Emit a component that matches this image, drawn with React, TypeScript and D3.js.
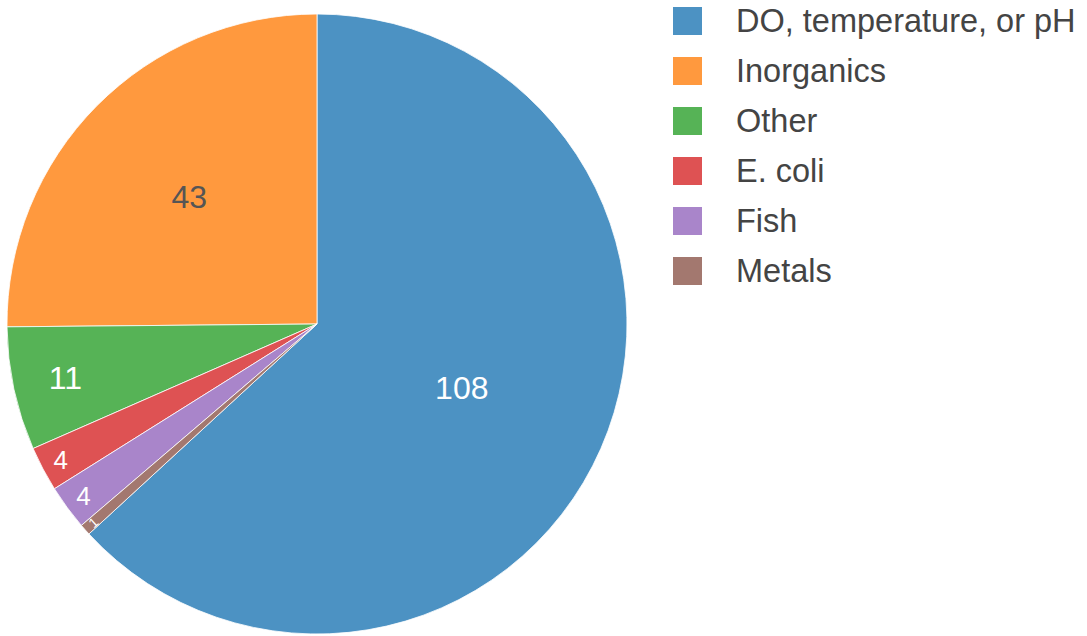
import React from "react";
import * as d3 from "d3";

const categories = ["DO, temperature, or pH", "Inorganics", "Other", "E. coli", "Fish", "Metals"];
const values = [108, 43, 11, 4, 4, 1];
const colors = ["#4c92c3", "#ff993e", "#56b356", "#de5253", "#a985ca", "#a3786f"];
const labelColors = ["#ffffff", "#555555", "#ffffff", "#ffffff", "#ffffff", "#ffffff"];
const labelSizes = [32, 32, 32, 26, 26, 14];
const labelRadiusFrac = [0.51, 0.58, 0.83, 0.935, 0.935, 0.965];
const labelRadial = [false, false, false, false, false, true];

const W = 1087;
const H = 636;
const cx = 317;
const cy = 324;
const R = 310;
const FONT = "'Liberation Sans', Arial, sans-serif";

export default function App() {
  const total = d3.sum(values);
  const a0 = (2 * Math.PI * values[0]) / total;
  const pie = d3
    .pie<number>()
    .sort(null)
    .value((d) => d)
    .startAngle(a0)
    .endAngle(a0 - 2 * Math.PI);
  const arcs = pie(values);
  const arc = d3.arc<d3.PieArcDatum<number>>().innerRadius(0).outerRadius(R);

  const legendY = d3.scalePoint<string>().domain(categories).range([21, 271]);

  return (
    <svg
      width={W}
      height={H}
      style={{ position: "absolute", left: 0, top: 0, background: "#fff" }}
      fontFamily={FONT}
    >
      <g transform={`translate(${cx},${cy})`}>
        {arcs.map((a, i) => (
          <path key={i} d={arc(a) || ""} fill={colors[i]} stroke="#ffffff" strokeWidth={0.8} />
        ))}
        {arcs.map((a, i) => {
          const mid = (a.startAngle + a.endAngle) / 2;
          const r = R * labelRadiusFrac[i];
          const x = r * Math.sin(mid);
          const y = -r * Math.cos(mid);
          let rot = 0;
          if (labelRadial[i]) {
            rot = (mid * 180) / Math.PI - 90;
            while (rot > 90) rot -= 180;
            while (rot < -90) rot += 180;
          }
          return (
            <text
              key={"t" + i}
              transform={`translate(${x},${y}) rotate(${rot})`}
              textAnchor="middle"
              dominantBaseline="central"
              fontSize={labelSizes[i]}
              fill={labelColors[i]}
            >
              {values[i]}
            </text>
          );
        })}
      </g>
      <g>
        {categories.map((c, i) => {
          const y = legendY(c) as number;
          return (
            <g key={c}>
              <rect x={673} y={y - 14} width={29} height={28} fill={colors[i]} />
              <text x={736} y={y} dominantBaseline="central" fontSize={32.5} fill="#444444">
                {c}
              </text>
            </g>
          );
        })}
      </g>
    </svg>
  );
}
